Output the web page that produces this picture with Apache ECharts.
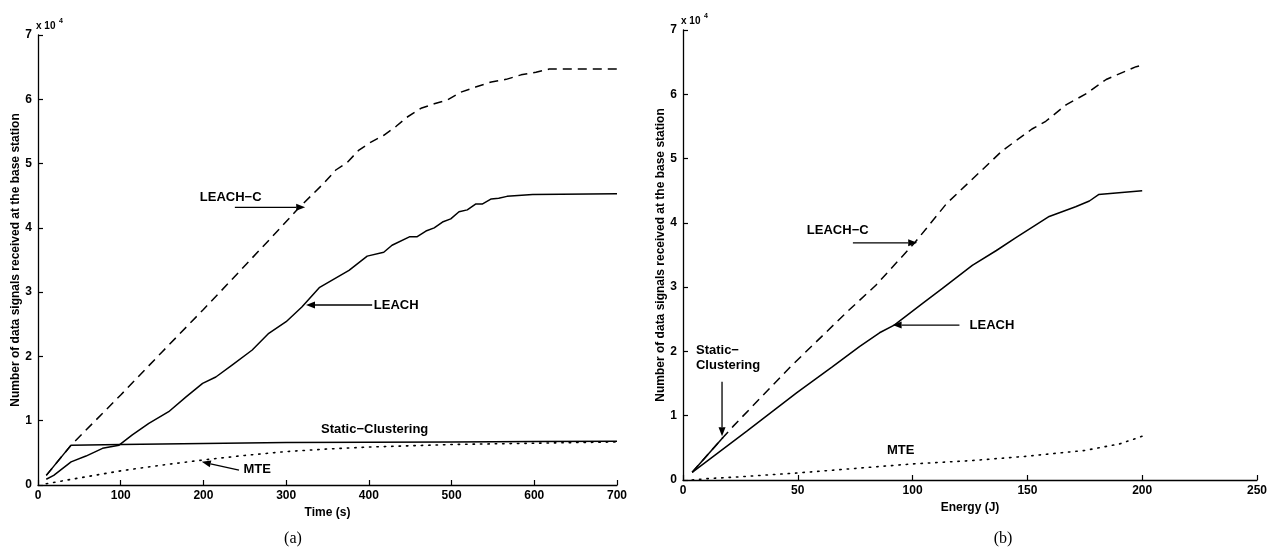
<!DOCTYPE html>
<html><head><meta charset="utf-8">
<script src="https://cdn.jsdelivr.net/npm/echarts@6/dist/echarts.min.js"></script>
<style>html,body{margin:0;padding:0;background:#fff}#c{width:1270px;height:555px}</style>
</head><body><div id="c"></div>
<script>
// ---------- (a) vs Time (s) ----------
const timeLeachC  = [10, 40, 100, 150, 200, 231, 280, 316, 331, 346, 360, 374, 388, 402, 418, 433, 446, 463, 479, 495, 511, 529, 548, 566, 584, 602, 618, 640, 700];
const valsLeachC  = [1500, 6200, 14000, 20700, 27300, 31500, 38200, 43200, 45100, 47000, 49000, 50200, 52100, 53300, 54400, 55800, 57200, 58600, 59300, 59900, 61100, 61900, 62700, 63100, 63800, 64200, 64700, 64700, 64700];
const timeLeach   = [10, 19, 40, 58, 78, 98, 114, 134, 158, 179, 199, 215, 235, 259, 279, 300, 319, 340, 376, 398, 418, 428, 449, 458, 469, 479, 489, 499, 509, 519, 529, 537, 548, 557, 567, 598, 700];
const valsLeach   = [900, 1500, 3600, 4500, 5700, 6200, 7800, 9600, 11400, 13700, 15800, 16800, 18700, 21000, 23600, 25400, 27700, 30700, 33400, 35600, 36200, 37300, 38600, 38600, 39500, 40000, 40900, 41400, 42500, 42800, 43700, 43700, 44500, 44600, 44900, 45200, 45300];
const timeStatic  = [10, 40, 100, 200, 300, 400, 500, 600, 700];
const valsStatic  = [1500, 6200, 6300, 6450, 6600, 6650, 6700, 6750, 6800];
const timeMTE     = [10, 50, 100, 150, 200, 250, 300, 350, 400, 450, 500, 550, 600, 650, 700];
const valsMTE     = [200, 1100, 2200, 3100, 3900, 4600, 5200, 5600, 5900, 6100, 6300, 6400, 6500, 6600, 6700];

// ---------- (b) vs Energy (J) ----------
const energyLeachC = [4, 17.4, 21.7, 46.5, 71, 84, 100.9, 114.8, 127.8, 139, 152, 158, 167, 175.7, 184.3, 197.4, 200];
const evalsLeachC  = [1200, 6600, 8300, 17500, 26000, 30300, 36900, 43000, 47400, 51200, 54600, 55800, 58400, 60100, 62300, 64300, 64500];
const energyLeach  = [4, 27.8, 49.6, 65, 77, 85.6, 92, 104.5, 113, 126, 136.5, 145, 152, 159.5, 171, 177, 181, 200];
const evalsLeach   = [1200, 7600, 13600, 17600, 20800, 22900, 24100, 27500, 29800, 33400, 35700, 37700, 39300, 41000, 42500, 43400, 44400, 45000];
const energyStatic = [4, 17.4];
const evalsStatic  = [1200, 6600];
const energyMTE    = [4, 10, 25, 50, 75, 100, 125, 150, 175, 190, 200];
const evalsMTE     = [0, 200, 500, 1100, 1800, 2500, 3000, 3700, 4600, 5600, 6800];

// axis ticks
const timeTicks   = [0, 700, 100];
const energyTicks = [0, 250, 50];
const yTicks      = [0, 70000, 10000];

const yTitle = 'Number of data signals received at the base station';

// annotations (data coordinates)
const notesA = [
  {text: 'LEACH\u2212C', at: [233, 44800], align: 'center', arrow: [[238, 43200], [323, 43200]]},
  {text: 'LEACH', at: [406, 28000], align: 'left', arrow: [[404, 28000], [324, 28000]]},
  {text: 'Static\u2212Clustering', at: [407, 8700], align: 'center'},
  {text: 'MTE', at: [265, 2500], align: 'center', arrow: [[243, 2300], [198, 3600]]}
];
const notesB = [
  {text: 'LEACH\u2212C', at: [67.4, 38800], align: 'center', arrow: [[74, 36900], [102, 36900]]},
  {text: 'LEACH', at: [124.8, 24100], align: 'left', arrow: [[120.4, 24100], [91.3, 24100]]},
  {text: 'Static\u2212\nClustering', at: [5.65, 19000], align: 'left', arrow: [[17, 15300], [17, 6800]]},
  {text: 'MTE', at: [94.8, 4600], align: 'center'}
];

const pairs = (xs, ys) => xs.map((x, i) => [x, ys[i]]);
const FONT = 'Liberation Sans, Arial, Helvetica, sans-serif';

function mkX(idx, ticks, name) {
  return {
    type: 'value', gridIndex: idx, min: ticks[0], max: ticks[1], interval: ticks[2],
    name: name, nameLocation: 'middle', nameGap: 19,
    nameTextStyle: {color: '#000', fontFamily: FONT, fontSize: 12, fontWeight: 'bold'},
    axisLine: {show: true, onZero: false, lineStyle: {color: '#000', width: 1.3}},
    axisTick: {show: true, inside: true, length: 5, lineStyle: {color: '#000', width: 1.2}},
    axisLabel: {color: '#000', fontFamily: FONT, fontSize: 12, fontWeight: 'bold', margin: 5},
    splitLine: {show: false}
  };
}
function mkY(idx) {
  return {
    type: 'value', gridIndex: idx, min: yTicks[0], max: yTicks[1], interval: yTicks[2],
    name: yTitle, nameLocation: 'middle', nameGap: 16,
    nameTextStyle: {color: '#000', fontFamily: FONT, fontSize: 12, fontWeight: 'bold'},
    axisLine: {show: true, onZero: false, lineStyle: {color: '#000', width: 1.3}},
    axisTick: {show: true, inside: true, length: 5, lineStyle: {color: '#000', width: 1.2}},
    axisLabel: {color: '#000', fontFamily: FONT, fontSize: 12, fontWeight: 'bold', margin: 6,
                formatter: v => String(v / 10000)},
    splitLine: {show: false}
  };
}
function mkS(idx, data, dash) {
  return {
    type: 'line', xAxisIndex: idx, yAxisIndex: idx, data: data,
    symbol: 'none', showSymbol: false, animation: false, silent: true,
    lineStyle: {color: '#000', width: dash === 'dot' ? 1.6 : 1.5,
                type: dash === 'dash' ? [9, 6] : (dash === 'dot' ? [1.4, 6] : 'solid'),
                cap: dash === 'dot' ? 'round' : 'butt'}
  };
}

const chart = echarts.init(document.getElementById('c'));
chart.setOption({
  backgroundColor: '#fff',
  animation: false,
  grid: [
    {left: 38, top: 35, width: 579, height: 450},
    {left: 683, top: 30, width: 575, height: 450}
  ],
  xAxis: [mkX(0, timeTicks, 'Time (s)'), mkX(1, energyTicks, 'Energy (J)')],
  yAxis: [mkY(0), mkY(1)],
  series: [
    mkS(0, pairs(timeLeachC, valsLeachC), 'dash'),
    mkS(0, pairs(timeLeach, valsLeach), 'solid'),
    mkS(0, pairs(timeStatic, valsStatic), 'solid'),
    mkS(0, pairs(timeMTE, valsMTE), 'dot'),
    mkS(1, pairs(energyLeachC, evalsLeachC), 'dash'),
    mkS(1, pairs(energyLeach, evalsLeach), 'solid'),
    mkS(1, pairs(energyStatic, evalsStatic), 'solid'),
    mkS(1, pairs(energyMTE, evalsMTE), 'dot')
  ]
});

function buildGraphics() {
  const g = [];
  const px = (gi, p) => chart.convertToPixel({gridIndex: gi}, p);
  [notesA, notesB].forEach((notes, gi) => {
    notes.forEach(n => {
      const p = px(gi, n.at);
      g.push({type: 'text', x: p[0], y: p[1], silent: true,
        style: {text: n.text, fill: '#000', font: 'bold 13px ' + FONT,
                align: n.align, verticalAlign: 'middle', lineHeight: 15}});
      if (n.arrow) {
        const a = px(gi, n.arrow[0]), b = px(gi, n.arrow[1]);
        const dx = b[0] - a[0], dy = b[1] - a[1], L = Math.hypot(dx, dy);
        const ux = dx / L, uy = dy / L, hl = 9, hw = 3.5;
        const bx = b[0] - ux * hl, by = b[1] - uy * hl;
        g.push({type: 'line', silent: true, shape: {x1: a[0], y1: a[1], x2: bx, y2: by},
                style: {stroke: '#000', lineWidth: 1.3}});
        g.push({type: 'polygon', silent: true,
                shape: {points: [[b[0], b[1]], [bx - uy * hw, by + ux * hw], [bx + uy * hw, by - ux * hw]]},
                style: {fill: '#000'}});
      }
    });
    // x 10^4 exponent above the y axis
    const top = px(gi, [gi === 0 ? timeTicks[0] : energyTicks[0], yTicks[1]]);
    g.push({type: 'text', x: top[0] - 2, y: top[1] - 4, silent: true,
            style: {text: 'x 10', fill: '#000', font: 'bold 10px ' + FONT, align: 'left', verticalAlign: 'bottom'}});
    g.push({type: 'text', x: top[0] + 21, y: top[1] - 10, silent: true,
            style: {text: '4', fill: '#000', font: 'bold 7px ' + FONT, align: 'left', verticalAlign: 'bottom'}});
  });
  // captions
  g.push({type: 'text', x: 293, y: 539, silent: true,
          style: {text: '(a)', fill: '#000', font: '16px Liberation Serif, Times New Roman, serif', align: 'center', verticalAlign: 'middle'}});
  g.push({type: 'text', x: 1003, y: 539, silent: true,
          style: {text: '(b)', fill: '#000', font: '16px Liberation Serif, Times New Roman, serif', align: 'center', verticalAlign: 'middle'}});
  chart.setOption({graphic: g});
}
buildGraphics();
</script></body></html>
